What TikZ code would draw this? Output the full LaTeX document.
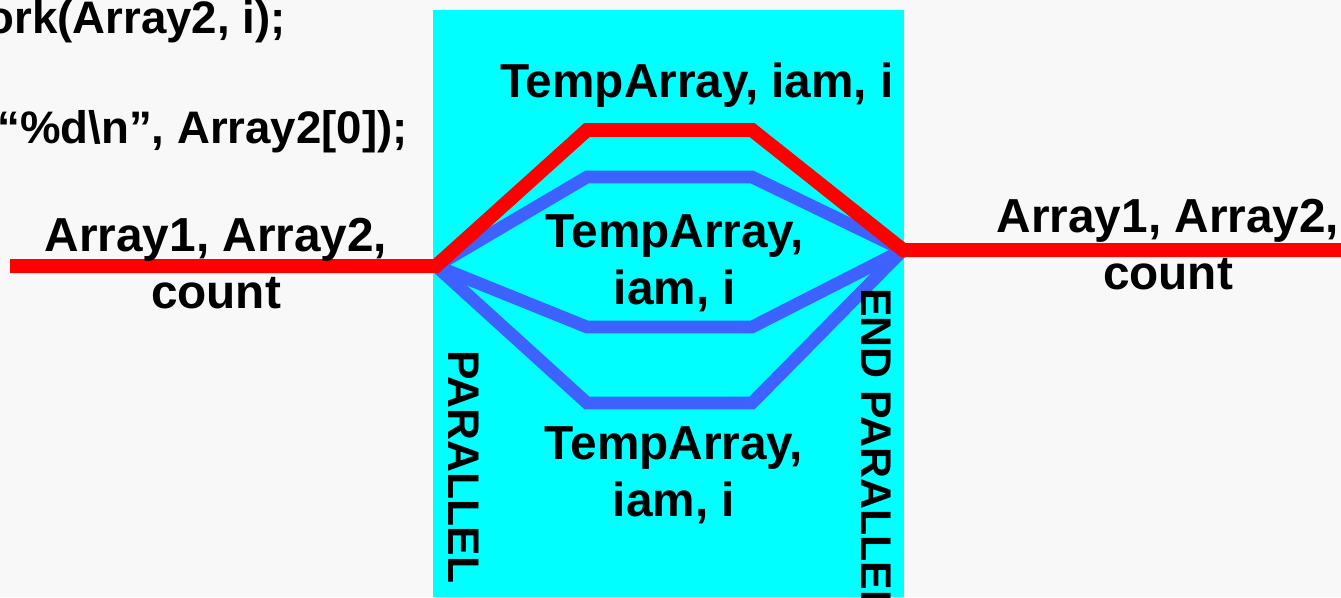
\documentclass[tikz,border=0pt]{standalone}
\usepackage{fontspec}
\setmainfont{Liberation Sans}
\usetikzlibrary{positioning}
\definecolor{slidebg}{RGB}{248,248,248}
\definecolor{regioncyan}{RGB}{0,255,255}
\definecolor{threadblue}{RGB}{61,98,255}
\definecolor{masterred}{RGB}{255,0,0}

\begin{document}
\begin{tikzpicture}[x=0.75pt, y=-0.75pt,
  every node/.style={font=\fontsize{35.8}{42.75}\selectfont\bfseries, inner sep=0pt},
  codeline/.style={anchor=base east, font=\fontsize{34.2}{42}\selectfont\bfseries},
  master/.style={draw=masterred, line width=10.5pt},
  thread/.style={draw=threadblue, line width=9.5pt},
  vlabel/.style={rotate=-90, anchor=base west, font=\fontsize{33.2}{40}\selectfont\bfseries}]
  \fill[slidebg] (0, 0) rectangle (1341, 597);
  \useasboundingbox (0, 0) rectangle (1341, 597);
  \fill[regioncyan] (433, 10) rectangle (904, 597);

  % code lines, cut at the left edge
  \node[codeline] (callwork) at (286, 33) {ork(Array2, i);};
  \node[codeline] (callprint) at (408, 143) {“\%d\textbackslash n”, Array2[0]);};

  % fork and join points
  \coordinate (inL) at (10, 266);
  \coordinate (fork) at (436, 266);
  \coordinate (join) at (903, 250);
  \coordinate (outR) at (1341, 250);
  \coordinate (m1) at (587, 130);  \coordinate (m2) at (752, 130);
  \coordinate (a1) at (587, 177);  \coordinate (a2) at (752, 177);
  \coordinate (b1) at (587, 327);  \coordinate (b2) at (752, 327);
  \coordinate (c1) at (587, 403);  \coordinate (c2) at (752, 403);

  % threads
  \draw[thread] (fork) -- (a1) -- (a2) -- (join);
  \draw[thread] (fork) -- (b1) -- (b2) -- (join);
  \draw[thread] (fork) -- (c1) -- (c2) -- (join);
  % master thread
  \draw[master] (inL) -- (fork) -- (m1) -- (m2) -- (join) -- (outR);

  \node[anchor=north, align=center] (sharedin) at (216, 218) {Array1, Array2,\\count};
  \node[anchor=north, align=center] (sharedout) at (1168, 199) {Array1, Array2,\\count};
  \node[anchor=base] (privm) at (697, 97) {TempArray, iam, i};
  \node[anchor=north, align=center] (priva) at (675, 214) {TempArray,\\iam, i};
  \node[anchor=north, align=center] (privb) at (674, 426) {TempArray,\\iam, i};

  \node[vlabel] (par) at (448, 350) {PARALLEL};
  \node[vlabel, font=\fontsize{32.2}{40}\selectfont\bfseries] (endpar) at (861, 288) {END PARALLEL};
\end{tikzpicture}
\end{document}
